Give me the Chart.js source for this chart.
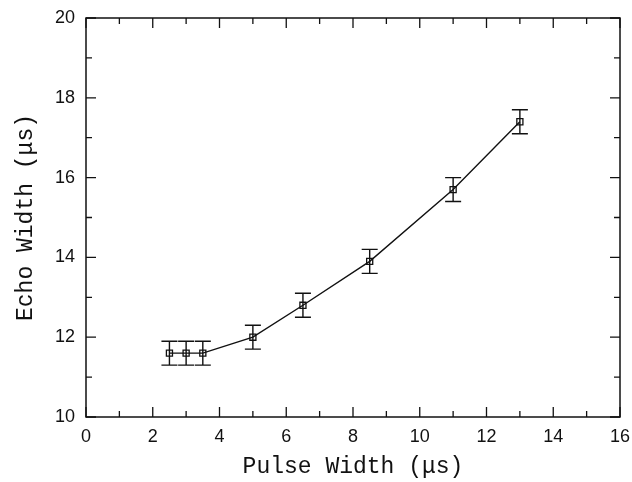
<!DOCTYPE html>
<html>
<head>
<meta charset="utf-8">
<script src="https://cdn.jsdelivr.net/npm/chart.js@4"></script>
<style>
  html, body { margin: 0; padding: 0; background: #fff; }
  #chart { display: block; }
</style>
</head>
<body>
<canvas id="chart" width="632" height="482"></canvas>
<script>
// data
const pulseWidth = [2.5, 3.0, 3.5, 5.0, 6.5, 8.5, 11.0, 13.0];
const echoWidth = [11.6, 11.6, 11.6, 12.0, 12.8, 13.9, 15.7, 17.4];
const echoError = [0.3, 0.3, 0.3, 0.3, 0.3, 0.3, 0.3, 0.3];

const xTickLabels = ['0', '2', '4', '6', '8', '10', '12', '14', '16'];
const yTickLabels = ['10', '12', '14', '16', '18', '20'];

const ink = '#111';
const tickFont = { family: '"Liberation Sans", Arial, sans-serif', size: 18 };
const titleFont = { family: '"Liberation Mono", "Courier New", monospace', size: 23 };

// label only the major ticks, odd values are minor
function majorLabel(labels) {
    return (value) => labels.includes(String(value)) ? String(value) : '';
}

/**
 * Error bars with caps, drawn through the scales
 */
const errorBars = {
    id: 'errorBars',
    afterDatasetsDraw(chart) {
        const { ctx, scales: { x, y } } = chart;
        const cap = 8;
        ctx.save();
        ctx.strokeStyle = ink;
        ctx.lineWidth = 1.4;
        pulseWidth.forEach((pw, i) => {
            const px = x.getPixelForValue(pw);
            const top = y.getPixelForValue(echoWidth[i] + echoError[i]);
            const bot = y.getPixelForValue(echoWidth[i] - echoError[i]);
            ctx.beginPath();
            ctx.moveTo(px, top); ctx.lineTo(px, bot);
            ctx.moveTo(px - cap, top); ctx.lineTo(px + cap, top);
            ctx.moveTo(px - cap, bot); ctx.lineTo(px + cap, bot);
            ctx.stroke();
        });
        ctx.restore();
    }
};

/**
 * Box frame with inward ticks on all four sides
 */
const frameTicks = {
    id: 'frameTicks',
    afterDatasetsDraw(chart) {
        const { ctx, chartArea: a, scales: { x, y } } = chart;
        ctx.save();
        ctx.strokeStyle = ink;
        ctx.lineWidth = 1.5;
        ctx.strokeRect(a.left, a.top, a.right - a.left, a.bottom - a.top);
        ctx.lineWidth = 1.3;
        ctx.beginPath();
        x.ticks.forEach(t => {
            const len = t.value % 2 === 0 ? 10 : 6;
            const px = x.getPixelForValue(t.value);
            ctx.moveTo(px, a.bottom); ctx.lineTo(px, a.bottom - len);
            ctx.moveTo(px, a.top); ctx.lineTo(px, a.top + len);
        });
        y.ticks.forEach(t => {
            const len = t.value % 2 === 0 ? 10 : 6;
            const py = y.getPixelForValue(t.value);
            ctx.moveTo(a.left, py); ctx.lineTo(a.left + len, py);
            ctx.moveTo(a.right, py); ctx.lineTo(a.right - len, py);
        });
        ctx.stroke();
        ctx.restore();
    }
};

new Chart(document.getElementById('chart'), {
    type: 'scatter',
    data: {
        datasets: [{
            data: pulseWidth.map((v, i) => ({ x: v, y: echoWidth[i] })),
            showLine: true,
            borderColor: ink,
            borderWidth: 1.4,
            pointStyle: 'rect',
            pointRadius: 4.3,
            pointBorderWidth: 1.3,
            pointBorderColor: ink,
            pointBackgroundColor: 'rgba(0,0,0,0)',
            tension: 0,
        }]
    },
    options: {
        responsive: false,
        animation: false,
        devicePixelRatio: 1,
        layout: { padding: { top: 18, right: 12, left: 0, bottom: 0 } },
        plugins: { legend: { display: false }, tooltip: { enabled: false } },
        scales: {
            x: {
                type: 'linear',
                min: 0,
                max: 16,
                grid: { display: false, drawTicks: false },
                border: { display: false },
                ticks: {
                    stepSize: 1,
                    autoSkip: false,
                    maxRotation: 0,
                    padding: 9,
                    color: ink,
                    font: tickFont,
                    callback: majorLabel(xTickLabels),
                },
                title: {
                    display: true,
                    text: 'Pulse Width (μs)',
                    color: ink,
                    font: titleFont,
                    padding: { top: 0, bottom: 1 },
                },
                afterFit: (scale) => {
                    scale.height = 65;
                    scale.paddingLeft = 0;
                    scale.paddingRight = 0;
                },
            },
            y: {
                type: 'linear',
                min: 10,
                max: 20,
                grid: { display: false, drawTicks: false },
                border: { display: false },
                ticks: {
                    stepSize: 1,
                    autoSkip: false,
                    padding: 11,
                    color: ink,
                    font: tickFont,
                    callback: majorLabel(yTickLabels),
                },
                title: {
                    display: true,
                    text: 'Echo Width (μs)',
                    color: ink,
                    font: titleFont,
                    padding: { top: 12, bottom: 0 },
                },
                afterFit: (scale) => {
                    scale.width = 86;
                    scale.paddingTop = 0;
                    scale.paddingBottom = 0;
                },
            }
        }
    },
    plugins: [errorBars, frameTicks]
});
</script>
</body>
</html>
